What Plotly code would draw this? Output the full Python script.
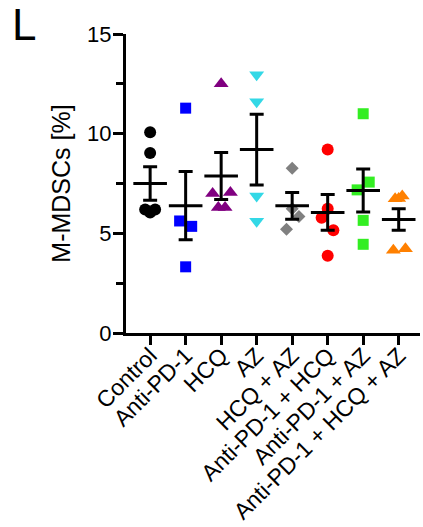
import plotly.graph_objects as go

categories = ["Control", "Anti-PD-1", "HCQ", "AZ", "HCQ + AZ",
              "Anti-PD-1 + HCQ", "Anti-PD-1 + AZ", "Anti-PD-1 + HCQ + AZ"]

control = [10.07, 9.03, 6.2, 6.2, 6.05]
anti_pd1 = [11.28, 5.62, 5.35, 3.32]
hcq = [12.5, 7.0, 7.05, 6.3, 6.3]
az = [12.95, 11.6, 6.87, 5.6]
hcq_az = [8.27, 6.23, 5.85, 5.2]
pd1_hcq = [9.2, 6.23, 5.78, 5.15, 3.87]
pd1_az = [11.0, 7.57, 7.18, 5.65, 4.45]
pd1_hcq_az = [6.87, 6.73, 6.75, 4.15, 4.23]

means = [7.5, 6.39, 7.88, 9.2, 6.38, 6.05, 7.15, 5.69]
sems = [0.84, 1.71, 1.18, 1.78, 0.67, 0.9, 1.08, 0.54]

groups = [control, anti_pd1, hcq, az, hcq_az, pd1_hcq, pd1_az, pd1_hcq_az]

# horizontal scatter offsets (category units) for overlapping points
offsets = [
    [0, 0, -0.14, 0.14, 0],
    [0, -0.17, 0.17, 0],
    [0, -0.24, 0.26, -0.08, 0.11],
    [0, 0, 0, 0],
    [0, 0, 0.19, -0.16],
    [0, 0, -0.17, 0.16, 0],
    [0, 0.17, -0.17, 0, 0],
    [0.1, -0.1, 0, -0.15, 0.19],
]
colors = ["#000000", "#0000FF", "#800080", "#33D8E6", "#808080",
          "#FF0000", "#33EE22", "#FF8000"]
symbols = ["circle", "square", "triangle-up", "triangle-down", "diamond",
           "circle", "square", "triangle-up"]
sizes = [12, 11, 13, 13, 10, 12, 11, 13]

FONT = "Arial, Liberation Sans, sans-serif"

fig = go.Figure()
for i, (vals, offs) in enumerate(zip(groups, offsets)):
    fig.add_trace(go.Scatter(
        x=[i + o for o in offs], y=vals, mode="markers",
        marker=dict(symbol=symbols[i], color=colors[i], size=sizes[i], line=dict(width=0)),
        showlegend=False, hoverinfo="skip", cliponaxis=False))

fig.add_trace(go.Scatter(
    x=list(range(len(categories))), y=means, mode="markers",
    marker=dict(symbol="line-ew", size=24, line=dict(width=3, color="black"), color="black"),
    error_y=dict(type="data", array=sems, visible=True, color="black", thickness=3, width=7),
    showlegend=False, hoverinfo="skip", cliponaxis=False))

fig.update_layout(
    width=423, height=527,
    margin=dict(l=126, r=3, t=34, b=194),
    paper_bgcolor="white", plot_bgcolor="white",
    font=dict(family=FONT, color="black", size=21),
    showlegend=False,
    xaxis=dict(
        range=[-0.68, 7.6], automargin=False,
        tickmode="array", tickvals=list(range(len(categories))), ticktext=categories,
        tickangle=-45, showline=True, linewidth=3, linecolor="black",
        ticks="outside", ticklen=9, tickwidth=3, tickcolor="black",
        ticklabelstandoff=-12,
        showgrid=False, zeroline=False, tickfont=dict(size=23, family=FONT),
    ),
    yaxis=dict(
        range=[0, 15], tickvals=[0, 5, 10, 15], automargin=False,
        showline=True, linewidth=3, linecolor="black",
        ticks="outside", ticklen=10, tickwidth=3, tickcolor="black",
        ticklabelstandoff=-3,
        minor=dict(tickvals=[2.5, 7.5, 12.5], ticks="outside", ticklen=7, tickwidth=3, tickcolor="black"),
        showgrid=False, zeroline=False, tickfont=dict(size=22, family=FONT),
        title=dict(text="M-MDSCs [%]", font=dict(size=25, family=FONT), standoff=10),
    ),
    annotations=[dict(text="L", xref="paper", yref="paper", x=-0.395, y=1.12,
                      xanchor="left", yanchor="top", showarrow=False,
                      font=dict(size=44, family=FONT, color="black"))],
)

fig.write_html("out.html")
